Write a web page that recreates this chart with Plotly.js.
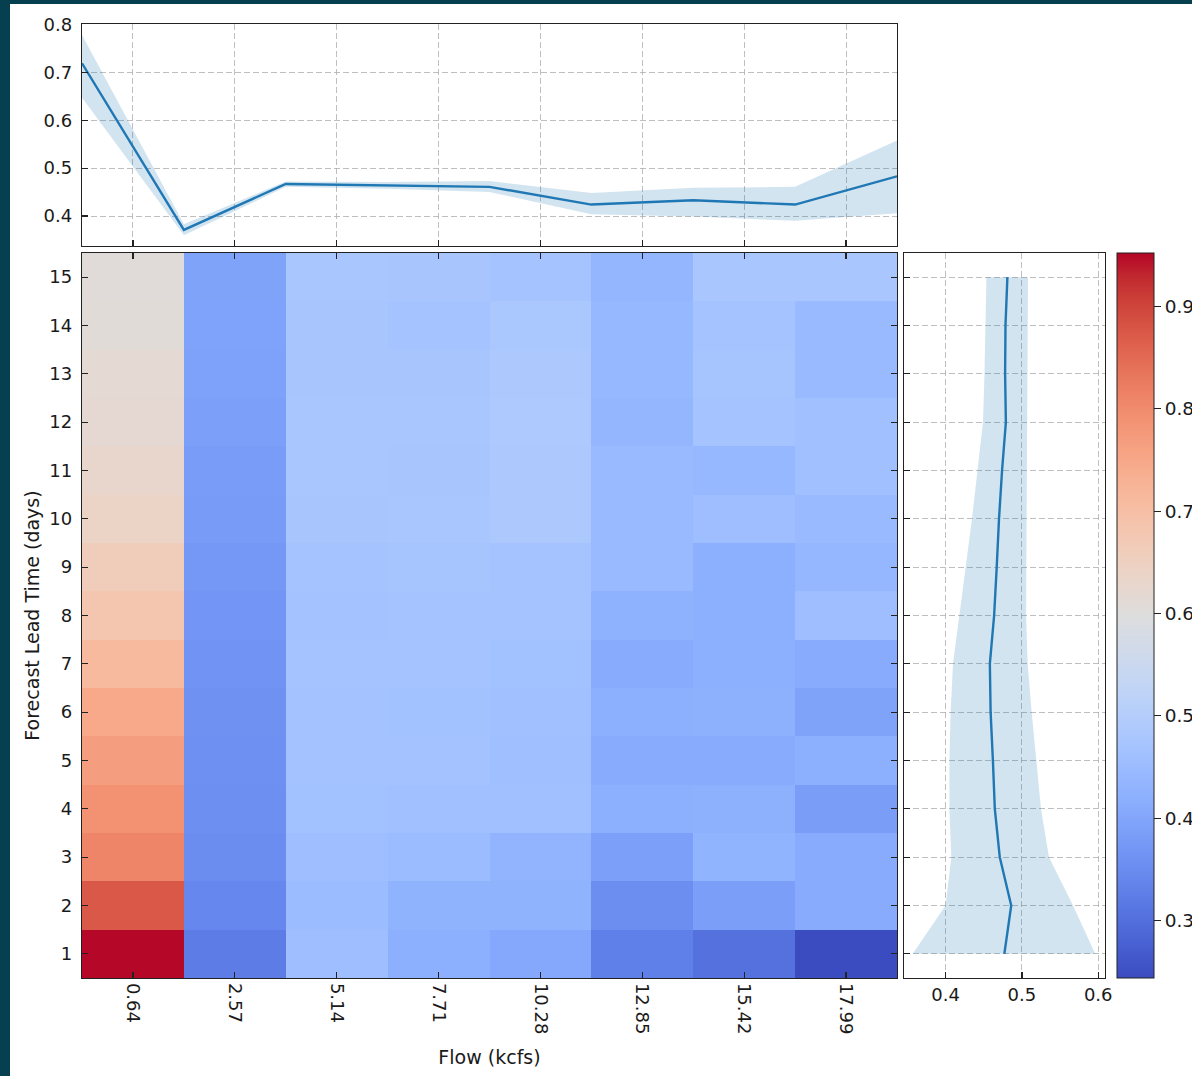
<!DOCTYPE html>
<html>
<head>
<meta charset="utf-8">
<script src="https://cdn.plot.ly/plotly-3.0.1.min.js"></script>
<style>
  html, body { margin:0; padding:0; background:#053f50; overflow:hidden; width:1192px; height:1076px; }
  #chart { position:absolute; left:10px; top:4px; width:1240px; height:1072px; background:#fff; }
</style>
</head>
<body>
<div id="chart"></div>
<script>
// ---------------- data ----------------
const flowLabels = ['0.64','2.57','5.14','7.71','10.28','12.85','15.42','17.99'];
const leadDays = [1,2,3,4,5,6,7,8,9,10,11,12,13,14,15];

// heatmap values per flow column, lead day 1 -> 15
const flow_0_64  = [0.950,0.874,0.810,0.789,0.768,0.747,0.711,0.683,0.662,0.640,0.630,0.619,0.616,0.609,0.605];
const flow_2_57  = [0.322,0.342,0.352,0.356,0.358,0.360,0.364,0.368,0.372,0.378,0.381,0.386,0.390,0.393,0.395];
const flow_5_14  = [0.456,0.450,0.455,0.462,0.465,0.465,0.468,0.465,0.470,0.475,0.478,0.478,0.475,0.475,0.478];
const flow_7_71  = [0.420,0.428,0.450,0.460,0.465,0.462,0.470,0.470,0.472,0.478,0.475,0.478,0.475,0.470,0.475];
const flow_10_28 = [0.405,0.428,0.432,0.460,0.458,0.460,0.462,0.470,0.470,0.485,0.485,0.488,0.485,0.480,0.470];
const flow_12_85 = [0.329,0.354,0.386,0.420,0.410,0.420,0.410,0.425,0.445,0.445,0.445,0.435,0.440,0.440,0.435];
const flow_15_42 = [0.304,0.384,0.430,0.424,0.410,0.424,0.420,0.420,0.420,0.455,0.440,0.470,0.472,0.470,0.478];
const flow_17_99 = [0.244,0.410,0.410,0.383,0.420,0.395,0.410,0.455,0.438,0.445,0.460,0.460,0.445,0.445,0.478];

// top marginal (per flow bin edge index 0..8)
const topIndex = [0,1,2,3,4,5,6,7,8];
const topMean  = [0.719,0.371,0.467,0.464,0.461,0.424,0.433,0.424,0.483];
const topLow   = [0.647,0.360,0.461,0.457,0.450,0.404,0.399,0.390,0.406];
const topHigh  = [0.778,0.383,0.472,0.471,0.473,0.448,0.459,0.461,0.558];

// right marginal (per lead day)
const rightMean = [0.477,0.486,0.471,0.4645,0.462,0.459,0.458,0.4636,0.467,0.470,0.474,0.479,0.478,0.4785,0.481];
const rightLow  = [0.357,0.400,0.4075,0.405,0.405,0.4066,0.4097,0.4184,0.4263,0.4346,0.4417,0.449,0.451,0.452,0.4535];
const rightHigh = [0.596,0.567,0.5355,0.525,0.519,0.5128,0.5075,0.5055,0.5058,0.506,0.5065,0.5065,0.507,0.5075,0.508];

const colorbarTicks = [0.3,0.4,0.5,0.6,0.7,0.8,0.9];

// ---------------- build ----------------
const columns = [flow_0_64, flow_2_57, flow_5_14, flow_7_71, flow_10_28, flow_12_85, flow_15_42, flow_17_99];
const z = leadDays.map((d, r) => columns.map(c => c[r]));

const coolwarmRGB = [
 [59,76,192],[68,90,204],[77,104,215],[87,117,225],[98,130,234],[108,142,241],[119,154,247],[130,165,251],
 [141,176,254],[152,185,255],[163,194,255],[174,201,253],[184,208,249],[194,213,244],[204,217,238],[213,219,230],
 [221,221,221],[229,216,209],[236,211,197],[241,204,185],[245,196,173],[247,187,160],[247,177,148],[247,166,135],
 [244,154,123],[241,141,111],[236,127,99],[229,112,88],[222,96,77],[213,80,66],[203,62,56],[192,40,47],[180,4,38]];
const coolwarm = coolwarmRGB.map((c,i) => [i/(coolwarmRGB.length-1), `rgb(${c[0]},${c[1]},${c[2]})`]);

const blue = '#1f77b4';
const band = 'rgba(31,119,180,0.2)';
const font = {family:'DejaVu Sans', size:18, color:'#1a1a1a'};
const gridStyle = {showgrid:true, gridcolor:'rgba(170,170,170,0.75)', gridwidth:1, griddash:'6px,3px'};
const lineStyle = {showline:true, linecolor:'#222', linewidth:1.3};

// pixel layout (div coords)
const W = 1240, H = 1072;
const mL = 72, mT = 20, mR = W - 1095, mB = H - 974;
const pw = W - mL - mR, ph = H - mT - mB;
const fx = px => (px - mL) / pw;
const fy = py => (H - mB - py) / ph;

const traces = [
  {
    type:'heatmap', x: flowLabels, y: leadDays, z: z,
    colorscale: coolwarm, zmin: 0.244, zmax: 0.952,
    xaxis:'x', yaxis:'y',
    colorbar: {
      x: fx(1107), xanchor:'left', xpad:0, y: fy(974), yanchor:'bottom', ypad:0,
      len: 725, lenmode:'pixels', thickness: 37, thicknessmode:'pixels',
      outlinewidth: 1, outlinecolor:'#222',
      tickvals: colorbarTicks, ticktext: colorbarTicks.map(v => v.toFixed(1)),
      ticks:'outside', ticklen:7, tickcolor:'#222', tickfont: {family:'DejaVu Sans', size:18.5, color:'#1a1a1a'}
    }
  },
  // top band
  { type:'scatter', mode:'lines', x: topIndex, y: topHigh, line:{width:0, color:band}, xaxis:'x2', yaxis:'y2', hoverinfo:'skip', showlegend:false },
  { type:'scatter', mode:'lines', x: topIndex, y: topLow, line:{width:0, color:band}, fill:'tonexty', fillcolor: band, xaxis:'x2', yaxis:'y2', hoverinfo:'skip', showlegend:false },
  { type:'scatter', mode:'lines', x: topIndex, y: topMean, line:{width:2.4, color: blue}, xaxis:'x2', yaxis:'y2', showlegend:false },
  // right band
  { type:'scatter', mode:'lines', x: rightLow.concat(rightHigh.slice().reverse()), y: leadDays.concat(leadDays.slice().reverse()),
    fill:'toself', fillcolor: band, line:{width:0, color:band}, xaxis:'x3', yaxis:'y3', hoverinfo:'skip', showlegend:false },
  { type:'scatter', mode:'lines', x: rightMean, y: leadDays, line:{width:2.4, color: blue}, xaxis:'x3', yaxis:'y3', showlegend:false }
];

const layout = {
  width: W, height: H,
  margin: {l: mL, r: mR, t: mT, b: mB},
  paper_bgcolor:'#ffffff', plot_bgcolor:'#ffffff',
  font: font, showlegend:false,
  xaxis: Object.assign({
    domain:[0, fx(887)], anchor:'y', type:'category', range:[-0.5, 7.5],
    ticks:'inside', ticklen:6, tickwidth:1.3, tickcolor:'#222', mirror:'allticks',
    tickangle: 90, tickfont: font, showgrid:false, zeroline:false,
    title:{text:'Flow (kcfs)', font:{family:'DejaVu Sans', size:19, color:'#1a1a1a'}, standoff: 17}
  }, lineStyle),
  yaxis: Object.assign({
    domain:[0, fy(249)], anchor:'x', range:[0.5, 15.5],
    tickvals: leadDays, ticks:'inside', ticklen:6, tickwidth:1.3, tickcolor:'#222', mirror:'allticks',
    tickfont: font, showgrid:false, zeroline:false, ticklabelstandoff: 5,
    title:{text:'Forecast Lead Time (days)', font:{family:'DejaVu Sans', size:19, color:'#1a1a1a'}, standoff: 4}
  }, lineStyle),
  xaxis2: Object.assign({
    domain:[0, fx(887)], anchor:'y2', range:[0, 8],
    tickvals:[0.5,1.5,2.5,3.5,4.5,5.5,6.5,7.5], showticklabels:false,
    ticks:'inside', ticklen:6, tickwidth:1.3, tickcolor:'#222', mirror:true, zeroline:false
  }, lineStyle, gridStyle),
  yaxis2: Object.assign({
    domain:[fy(242), 1], anchor:'x2', range:[0.3375, 0.801],
    tickvals:[0.4,0.5,0.6,0.7,0.8], ticktext:['0.4','0.5','0.6','0.7','0.8'],
    ticks:'inside', ticklen:6, tickwidth:1.3, tickcolor:'#222', mirror:true, zeroline:false,
    tickfont: font, ticklabelstandoff: 5
  }, lineStyle, gridStyle),
  xaxis3: Object.assign({
    domain:[fx(894), 1], anchor:'y3', range:[0.3455, 0.6089],
    tickvals:[0.4,0.5,0.6], ticktext:['0.4','0.5','0.6'],
    ticks:'inside', ticklen:6, tickwidth:1.3, tickcolor:'#222', mirror:true, zeroline:false,
    tickfont: font
  }, lineStyle, gridStyle),
  yaxis3: Object.assign({
    domain:[0, fy(249)], anchor:'x3', range:[0.5, 15.5],
    tickvals: leadDays, showticklabels:false,
    ticks:'inside', ticklen:6, tickwidth:1.3, tickcolor:'#222', mirror:true, zeroline:false
  }, lineStyle, gridStyle)
};

Plotly.newPlot('chart', traces, layout, {staticPlot:true, displayModeBar:false});
</script>
</body>
</html>
